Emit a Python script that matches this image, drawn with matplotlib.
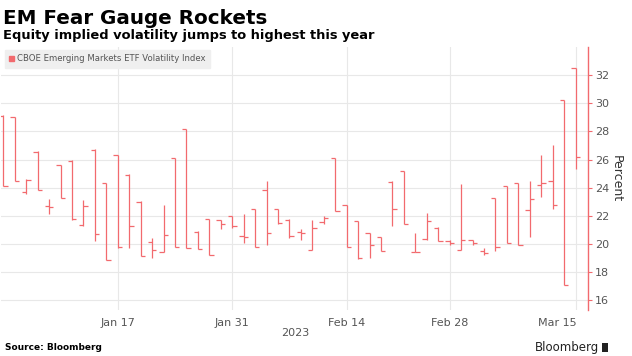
import numpy as np
import pandas as pd
import matplotlib
matplotlib.use('Agg')
import matplotlib.pyplot as plt
import matplotlib.transforms as mtransforms
from matplotlib import font_manager
from matplotlib.patches import Patch, Rectangle

# trading days shown on the chart
holidays = ['2023-01-02', '2023-01-16', '2023-02-20']
dates = pd.bdate_range('2022-12-30', '2023-03-15', freq='C', holidays=holidays)

# daily OHLC of the CBOE EM ETF volatility index
opens = [29.1, 29.0, 23.7, 26.55, 22.7, 25.6, 25.9, 21.35, 26.7, 24.3,
         26.3, 24.9, 23.0, 20.15, 19.4, 26.1, 28.2, 20.85, 21.8, 21.7,
         22.0, 20.6, 22.5, 23.8, 22.45, 21.7, 20.85, 19.6, 21.55, 26.1,
         22.8, 21.65, 20.75, 20.5, 24.4, 25.2, 19.45, 20.35, 21.1, 20.2,
         19.6, 20.25, 19.5, 23.25, 24.1, 24.3, 22.4, 24.2, 24.5, 30.2,
         32.5]
highs = [29.2, 29.0, 24.6, 26.6, 23.2, 25.6, 25.95, 23.1, 26.75, 24.3,
         26.35, 24.95, 23.05, 20.4, 22.75, 26.1, 28.2, 20.9, 21.8, 21.7,
         22.0, 22.1, 22.5, 24.5, 22.5, 21.75, 21.05, 21.7, 22.0, 26.1,
         22.8, 21.65, 20.8, 20.5, 24.45, 25.2, 20.8, 22.2, 21.2, 20.3,
         24.25, 20.3, 19.7, 23.25, 24.1, 24.3, 24.5, 26.35, 27.0, 30.2,
         32.5]
lows = [24.15, 24.5, 23.55, 23.8, 22.15, 23.3, 21.7, 21.3, 20.2, 18.85,
        19.7, 19.7, 19.15, 19.0, 19.4, 19.8, 19.7, 19.65, 19.2, 21.05,
        21.1, 20.1, 19.8, 19.95, 21.45, 20.4, 20.3, 19.6, 21.45, 22.35,
        19.8, 18.9, 19.0, 19.5, 21.25, 21.4, 19.4, 20.3, 20.2, 19.95,
        19.6, 19.9, 19.25, 19.5, 20.05, 19.95, 20.5, 23.35, 22.5, 17.05,
        25.35]
closes = [24.15, 24.5, 24.55, 23.8, 22.65, 23.3, 21.75, 22.7, 20.7, 18.85,
          19.75, 21.3, 19.15, 19.55, 20.65, 19.8, 19.7, 19.65, 19.2, 21.4,
          21.3, 20.5, 19.8, 20.75, 21.5, 20.55, 20.75, 21.1, 21.85, 22.35,
          19.8, 19.0, 19.95, 19.5, 22.45, 21.4, 19.45, 21.65, 20.2, 20.1,
          20.25, 20.1, 19.35, 19.8, 20.1, 19.95, 23.2, 24.35, 22.75, 17.05,
          26.2]

tick_dates = ['2023-01-17', '2023-01-31', '2023-02-14', '2023-02-28', '2023-03-15']
tick_labels = ['Jan 17', 'Jan 31', 'Feb 14', 'Feb 28', 'Mar 15']
yticks = [16, 18, 20, 22, 24, 26, 28, 30, 32]

names = {f.name for f in font_manager.fontManager.ttflist}
narrow = 'Liberation Sans Narrow' if 'Liberation Sans Narrow' in names else 'DejaVu Sans'

red = '#f26a6e'
grey = '#555555'

x = np.arange(len(dates))
tick_pos = [dates.get_loc(pd.Timestamp(d)) for d in tick_dates]

fig = plt.figure(figsize=(6.32, 3.56), dpi=100)
ax = fig.add_axes([0.0016, 0.129, 0.929, 0.739])

ax.vlines(x, lows, highs, color=red, lw=0.9, zorder=3)
ax.hlines(opens, x - 0.38, x, color=red, lw=0.9, zorder=3)
ax.hlines(closes, x, x + 0.38, color=red, lw=0.9, zorder=3)

ax.set_xlim(-0.2, 51.1)
ax.set_ylim(15.3, 34)

ax.grid(True, color='#e8e8e8', lw=0.8, zorder=0)
ax.set_axisbelow(True)
for s in ['top', 'left', 'bottom']:
    ax.spines[s].set_visible(False)
ax.spines['right'].set_color(red)
ax.spines['right'].set_linewidth(1)

ax.set_xticks(tick_pos)
ax.set_xticklabels(tick_labels, family=narrow, fontsize=8, color=grey)
ax.tick_params(axis='x', length=0, pad=6)
# last date label sits left of its gridline
lab = ax.get_xticklabels()[-1]
lab.set_transform(lab.get_transform() + mtransforms.ScaledTranslation(-0.18, 0, fig.dpi_scale_trans))

ax.yaxis.tick_right()
ax.set_yticks(yticks)
ax.set_yticklabels([str(v) for v in yticks], family=narrow, fontsize=8, color=grey)
ax.tick_params(axis='y', length=3, width=0.8, color=red, pad=2)
ax.yaxis.set_label_position('right')
ax.set_ylabel('Percent', rotation=270, fontsize=9, color='#333333', labelpad=10)

leg = ax.legend(handles=[Patch(color=red)], labels=['CBOE Emerging Markets ETF Volatility Index'],
                loc='upper left', bbox_to_anchor=(0.006, 0.99), borderaxespad=0,
                prop={'family': narrow, 'size': 6.1}, facecolor='#efefef', edgecolor='#efefef',
                framealpha=1, fancybox=False, handlelength=0.6, handleheight=0.6,
                handletextpad=0.3, borderpad=0.55)
for t in leg.get_texts():
    t.set_color(grey)

fig.text(0.005, 1 - 18 / 356, 'EM Fear Gauge Rockets', fontsize=14.3, weight='bold', va='center')
fig.text(0.005, 1 - 36 / 356, 'Equity implied volatility jumps to highest this year',
         fontsize=9.4, weight='bold', va='center')
fig.text(295 / 632, 1 - 333 / 356, '2023', family=narrow, fontsize=8, color=grey, ha='center', va='center')
fig.text(0.008, 1 - 347 / 356, 'Source: Bloomberg', fontsize=6.5, weight='bold', va='center')
fig.text(0.948, 1 - 347 / 356, 'Bloomberg', fontsize=8.5, va='center', ha='right', color='#222222')
fig.patches.append(Rectangle((0.953, 1 - 352 / 356), 0.009, 0.026, transform=fig.transFigure,
                             facecolor='#222222', edgecolor='none'))

fig.savefig('out.png', dpi=100)
